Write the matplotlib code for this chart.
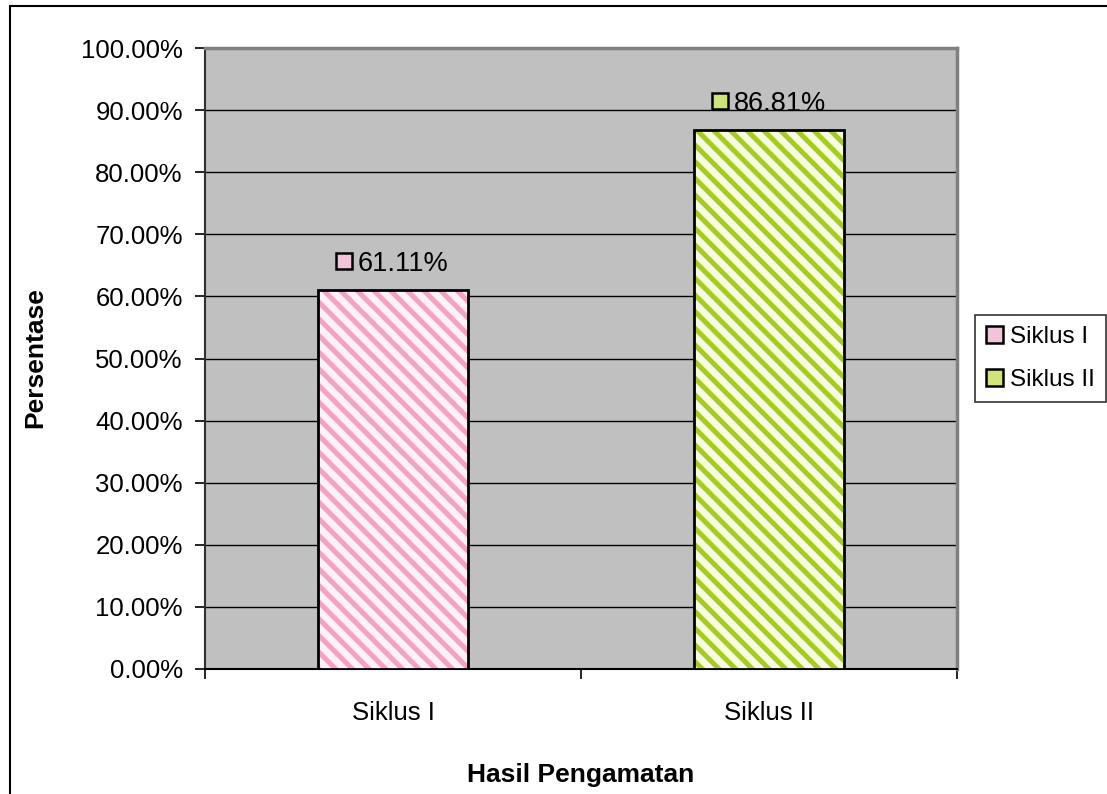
import matplotlib.pyplot as plt
import matplotlib.patches as patches
from matplotlib.transforms import offset_copy
import numpy as np

# data
categories = ["Siklus I", "Siklus II"]
values = [61.11, 86.81]
yticks = [0, 10, 20, 30, 40, 50, 60, 70, 80, 90, 100]

face_cols = ["#fdf0f6", "#f6fbe2"]
hatch_cols = ["#f3a2c2", "#a6cc1e"]
key_cols = ["#f2c4dc", "#cfe57a"]

plt.rcParams['font.family'] = ['Liberation Sans', 'DejaVu Sans']
plt.rcParams['hatch.linewidth'] = 3.6

fig = plt.figure(figsize=(11.07, 7.94), dpi=100)
ax = fig.add_axes([205/1107, 1 - 669/794, 752/1107, 621/794])
ax.set_facecolor('#c0c0c0')

x = np.arange(len(categories))
# hatched fill, then black outline on top
ax.bar(x, values, width=0.4, color=face_cols, edgecolor=hatch_cols,
       hatch='\\\\', linewidth=0, zorder=3)
ax.bar(x, values, width=0.4, fill=False, edgecolor='black', linewidth=2, zorder=4)

ax.set_xlim(-0.5, 1.5)
ax.set_ylim(0, 100)
ax.set_yticks(yticks)
ax.set_yticklabels([f"{v:.2f}%" for v in yticks], fontsize=18.5)
ax.yaxis.grid(True, color='black', linewidth=1)
ax.set_axisbelow(True)

ax.set_xticks([-0.5, 0.5, 1.5])
ax.set_xticklabels([])
ax.set_xticks(x, minor=True)
ax.set_xticklabels(categories, minor=True, fontsize=18.5)
ax.tick_params(axis='x', which='major', length=7, width=1.2, direction='out')
ax.tick_params(axis='x', which='minor', length=0, pad=23)
ax.tick_params(axis='y', length=7, width=1.2, pad=9)

for s in ['top', 'right']:
    ax.spines[s].set_color('#808080')
    ax.spines[s].set_linewidth(2.5)
ax.spines['left'].set_color('#303030')
ax.spines['left'].set_linewidth(1.5)
ax.spines['bottom'].set_color('black')
ax.spines['bottom'].set_linewidth(1.5)

# data labels with small legend key
for xi, v, kc in zip(x, values, key_cols):
    tr_key = offset_copy(ax.transData, fig=fig, x=-49, y=28.5, units='dots')
    ax.plot([xi], [v], marker='s', markersize=12, markerfacecolor=kc,
            markeredgecolor='black', markeredgewidth=1.8, transform=tr_key,
            clip_on=False, zorder=6)
    tr_txt = offset_copy(ax.transData, fig=fig, x=-35, y=26, units='dots')
    ax.text(xi, v, f"{v:.2f}%", transform=tr_txt, fontsize=19.5,
            ha='left', va='center', zorder=6)

fig.text(35/1107, 1 - 358/794, "Persentase", rotation=90, fontsize=19,
         fontweight='bold', ha='center', va='center')
fig.text(581/1107, 1 - 775/794, "Hasil Pengamatan", fontsize=19,
         fontweight='bold', ha='center', va='center')

# legend
handles = [patches.Patch(facecolor=kc, edgecolor='black', linewidth=1.8)
           for kc in key_cols]
leg = fig.legend(handles, categories, loc='upper left',
                 bbox_to_anchor=(975/1107, 1 - 315/794), fontsize=17.5,
                 frameon=True, fancybox=False, handlelength=0.7,
                 handleheight=0.7, handletextpad=0.3, borderpad=0.45,
                 labelspacing=0.85, borderaxespad=0)
leg.get_frame().set_edgecolor('black')
leg.get_frame().set_linewidth(1.2)

# outer chart border
fig.patches.append(patches.Rectangle((10/1107, -0.05), 1.1, 1 - 6/794 + 0.05,
                                     transform=fig.transFigure, fill=False,
                                     edgecolor='black', linewidth=1.5))

fig.savefig('out.png', dpi=100)
